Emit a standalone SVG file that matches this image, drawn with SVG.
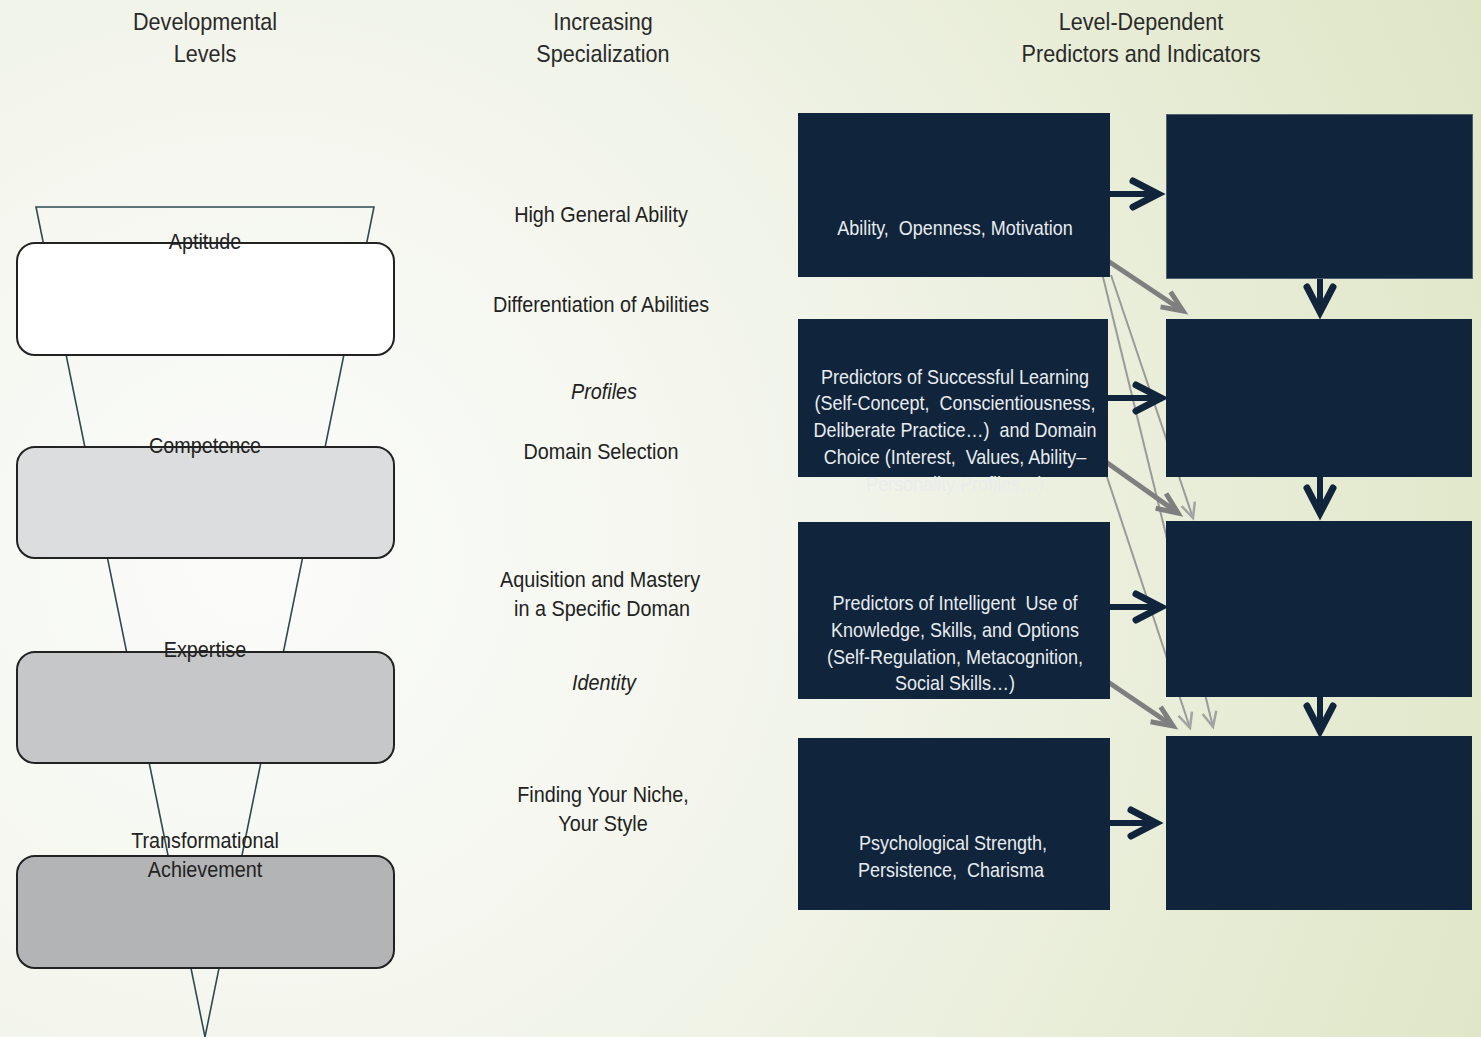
<svg xmlns="http://www.w3.org/2000/svg" width="1481" height="1037" viewBox="0 0 1481 1037">
<style>
text{font-family:"Liberation Sans",Arial,sans-serif;text-anchor:middle}
.hd{font-size:24px;fill:#2a2a2a}
.mid{font-size:22px;fill:#222}
.lv{font-size:22px;fill:#222}
.bx{font-size:20px;fill:#e8ecef;white-space:pre}
.navy{fill:#10243b}
.rr{stroke:#222;stroke-width:2}
.fun{fill:none;stroke:#2d4a50;stroke-width:1.6}
.cb{stroke:#10243b;stroke-width:6;fill:none}
.cg{stroke:#7f7f7f;stroke-width:5;fill:none}
.ct{stroke:#9a9a9a;stroke-width:2;fill:none}
</style>
<defs>
<radialGradient id="bg" cx="250" cy="560" r="1350" gradientUnits="userSpaceOnUse">
<stop offset="0" stop-color="#fbfcfa"/>
<stop offset="0.35" stop-color="#f4f6ee"/>
<stop offset="1" stop-color="#dfe6c6"/>
</radialGradient>
<marker id="mb" markerUnits="userSpaceOnUse" orient="auto" markerWidth="40" markerHeight="40" viewBox="-30 -20 40 40" refX="0" refY="0" style="overflow:visible">
<path d="M-25,-13 L0,0 L-25,13" fill="none" stroke="#10243b" stroke-width="7" stroke-linecap="round" stroke-linejoin="miter"/>
</marker>
<marker id="mg" markerUnits="userSpaceOnUse" orient="auto" markerWidth="40" markerHeight="40" viewBox="-30 -20 40 40" refX="0" refY="0" style="overflow:visible">
<path d="M-21,-9 L0,0 L-21,9" fill="none" stroke="#7f7f7f" stroke-width="5" stroke-linecap="butt"/>
</marker>
<marker id="mt" markerUnits="userSpaceOnUse" orient="auto" markerWidth="40" markerHeight="40" viewBox="-30 -20 40 40" refX="0" refY="0" style="overflow:visible">
<path d="M-15,-7 L0,0 L-15,7" fill="none" stroke="#a3a3a3" stroke-width="2.5"/>
</marker>
</defs>
<rect width="1481" height="1037" fill="url(#bg)"/>

<g id="funnel">
<path class="fun" d="M36,207 L374,207 L205,1037 Z"/>
</g>

<g id="headers" transform="scale(0.9,1)">
<text class="hd" x="227.8" y="30">Developmental</text>
<text class="hd" x="227.8" y="62">Levels</text>
<text class="hd" x="670" y="30">Increasing</text>
<text class="hd" x="670" y="62">Specialization</text>
<text class="hd" x="1267.8" y="30">Level-Dependent</text>
<text class="hd" x="1267.8" y="62">Predictors and Indicators</text>
</g>

<g id="level-aptitude">
<rect class="rr" x="17" y="243" width="377" height="112" rx="18" fill="#ffffff"/>
<g transform="scale(0.9,1)"><text class="lv" x="227.8" y="249">Aptitude</text></g>
</g>
<g id="level-competence">
<rect class="rr" x="17" y="447" width="377" height="111" rx="18" fill="#dcdddf"/>
<g transform="scale(0.9,1)"><text class="lv" x="227.8" y="453">Competence</text></g>
</g>
<g id="level-expertise">
<rect class="rr" x="17" y="652" width="377" height="111" rx="18" fill="#c6c7c9"/>
<g transform="scale(0.9,1)"><text class="lv" x="227.8" y="657">Expertise</text></g>
</g>
<g id="level-transformational">
<rect class="rr" x="17" y="856" width="377" height="112" rx="18" fill="#b3b4b6"/>
<g transform="scale(0.9,1)">
<text class="lv" x="227.8" y="848">Transformational</text>
<text class="lv" x="227.8" y="877">Achievement</text>
</g>
</g>

<g id="specialization" transform="scale(0.9,1)">
<text class="mid" x="667.8" y="222">High General Ability</text>
<text class="mid" x="667.8" y="312">Differentiation of Abilities</text>
<text class="mid" x="671.1" y="399" font-style="italic">Profiles</text>
<text class="mid" x="667.8" y="459">Domain Selection</text>
<text class="mid" x="666.7" y="587">Aquisition and Mastery</text>
<text class="mid" x="668.9" y="616">in a Specific Doman</text>
<text class="mid" x="671.1" y="690" font-style="italic">Identity</text>
<text class="mid" x="670" y="802">Finding Your Niche,</text>
<text class="mid" x="670" y="831">Your Style</text>
</g>

<g id="connectors">
<line class="ct" x1="1103" y1="277" x2="1213" y2="727" marker-end="url(#mt)"/>
<line class="ct" x1="1111" y1="275" x2="1193" y2="518" marker-end="url(#mt)"/>
<line class="ct" x1="1107" y1="477" x2="1190" y2="728" marker-end="url(#mt)"/>
<line class="cg" x1="1108" y1="261" x2="1183" y2="311" marker-end="url(#mg)"/>
<line class="cg" x1="1106" y1="462" x2="1178" y2="513" marker-end="url(#mg)"/>
<line class="cg" x1="1108" y1="682" x2="1173" y2="726" marker-end="url(#mg)"/>
<line class="cb" x1="1110" y1="194" x2="1158" y2="194" marker-end="url(#mb)"/>
<line class="cb" x1="1108" y1="398" x2="1161" y2="398" marker-end="url(#mb)"/>
<line class="cb" x1="1110" y1="607" x2="1161" y2="607" marker-end="url(#mb)"/>
<line class="cb" x1="1110" y1="823" x2="1156" y2="823" marker-end="url(#mb)"/>
<line class="cb" x1="1320" y1="279" x2="1320" y2="312" marker-end="url(#mb)"/>
<line class="cb" x1="1320" y1="477" x2="1320" y2="513" marker-end="url(#mb)"/>
<line class="cb" x1="1320" y1="697" x2="1320" y2="731" marker-end="url(#mb)"/>
</g>

<g id="predictor-1">
<rect class="navy" x="798" y="113" width="312" height="164"/>
<g transform="scale(0.9,1)"><text class="bx" x="1061.1" y="235">Ability,  Openness, Motivation</text></g>
</g>
<g id="predictor-2">
<rect class="navy" x="798" y="319" width="310" height="158"/>
<g transform="scale(0.9,1)">
<text class="bx" x="1061.1" y="384">Predictors of Successful Learning</text>
<text class="bx" x="1061.1" y="410">(Self-Concept,  Conscientiousness,</text>
<text class="bx" x="1061.1" y="437">Deliberate Practice…)  and Domain</text>
<text class="bx" x="1061.1" y="464">Choice (Interest,  Values, Ability–</text>
<text class="bx" x="1061.1" y="491" fill="#ffffff">Personality Profiles…)</text>
</g>
</g>
<g id="predictor-3">
<rect class="navy" x="798" y="522" width="312" height="177"/>
<g transform="scale(0.9,1)">
<text class="bx" x="1061.1" y="610">Predictors of Intelligent  Use of</text>
<text class="bx" x="1061.1" y="637">Knowledge, Skills, and Options</text>
<text class="bx" x="1061.1" y="664">(Self-Regulation, Metacognition,</text>
<text class="bx" x="1061.1" y="690">Social Skills…)</text>
</g>
</g>
<g id="predictor-4">
<rect class="navy" x="798" y="738" width="312" height="172"/>
<g transform="scale(0.9,1)">
<text class="bx" x="1058.9" y="850">Psychological Strength,</text>
<text class="bx" x="1056.7" y="877">Persistence,  Charisma</text>
</g>
</g>

<g id="indicator-1">
<rect class="navy" x="1166.5" y="114.5" width="306" height="164" stroke="#51606e" stroke-width="1"/>
</g>
<g id="indicator-2">
<rect class="navy" x="1166" y="319" width="306" height="158"/>
</g>
<g id="indicator-3">
<rect class="navy" x="1166" y="521" width="306" height="176"/>
</g>
<g id="indicator-4">
<rect class="navy" x="1166" y="736" width="306" height="174"/>
</g>
</svg>
